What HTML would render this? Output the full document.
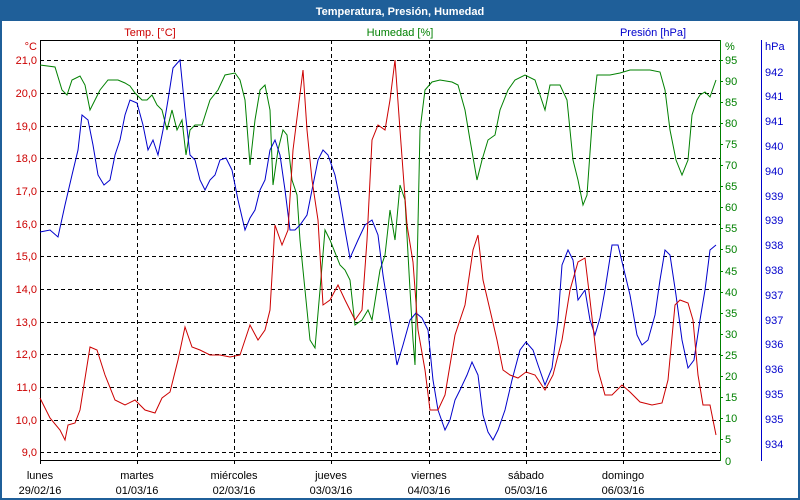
<!DOCTYPE html>
<html><head><meta charset="utf-8"><style>
body{margin:0;width:800px;height:500px;overflow:hidden;background:#fff}
svg{display:block}
text{font-family:"Liberation Sans",sans-serif;font-size:11px}
</style></head><body>
<svg width="800" height="500" xmlns="http://www.w3.org/2000/svg">
<rect x="0" y="0" width="800" height="500" fill="#1f5f99"/>
<rect x="2" y="21" width="796" height="477" fill="#fff"/>
<text x="400" y="15" fill="#fff" font-weight="bold" text-anchor="middle" font-size="12">Temperatura, Presión, Humedad</text>
<text x="150" y="36" fill="#cc0000" text-anchor="middle">Temp. [°C]</text>
<text x="400" y="36" fill="#008000" text-anchor="middle">Humedad [%]</text>
<text x="653" y="36" fill="#0000cc" text-anchor="middle">Presión [hPa]</text>
<g stroke="#000" stroke-dasharray="4,3" stroke-width="1">
<line x1="40" x2="720" y1="60.5" y2="60.5"/><line x1="40" x2="720" y1="93.5" y2="93.5"/><line x1="40" x2="720" y1="126.5" y2="126.5"/><line x1="40" x2="720" y1="158.5" y2="158.5"/><line x1="40" x2="720" y1="191.5" y2="191.5"/><line x1="40" x2="720" y1="224.5" y2="224.5"/><line x1="40" x2="720" y1="256.5" y2="256.5"/><line x1="40" x2="720" y1="289.5" y2="289.5"/><line x1="40" x2="720" y1="322.5" y2="322.5"/><line x1="40" x2="720" y1="354.5" y2="354.5"/><line x1="40" x2="720" y1="387.5" y2="387.5"/><line x1="40" x2="720" y1="420.5" y2="420.5"/><line x1="40" x2="720" y1="452.5" y2="452.5"/>
<line x1="137.5" x2="137.5" y1="40" y2="464"/><line x1="234.5" x2="234.5" y1="40" y2="464"/><line x1="331.5" x2="331.5" y1="40" y2="464"/><line x1="429.5" x2="429.5" y1="40" y2="464"/><line x1="526.5" x2="526.5" y1="40" y2="464"/><line x1="623.5" x2="623.5" y1="40" y2="464"/>
</g>
<line x1="40" x2="720" y1="40.5" y2="40.5" stroke="#000"/>
<line x1="40" x2="720" y1="460.5" y2="460.5" stroke="#000"/>
<line x1="40.5" x2="40.5" y1="40" y2="464" stroke="#000"/>
<line x1="720.5" x2="720.5" y1="40" y2="461" stroke="#008000"/>
<line x1="761.5" x2="761.5" y1="40" y2="461" stroke="#0000cc"/>
<g fill="#cc0000" text-anchor="end">
<text x="37" y="50">°C</text>
<text x="37" y="64">21,0</text><text x="37" y="97">20,0</text><text x="37" y="130">19,0</text><text x="37" y="162">18,0</text><text x="37" y="195">17,0</text><text x="37" y="228">16,0</text><text x="37" y="260">15,0</text><text x="37" y="293">14,0</text><text x="37" y="326">13,0</text><text x="37" y="358">12,0</text><text x="37" y="391">11,0</text><text x="37" y="424">10,0</text><text x="37" y="456">9,0</text>
</g>
<g fill="#008000" stroke="#008000">
<g stroke-width="1">
<line x1="720" x2="723" y1="60.5" y2="60.5"/><line x1="720" x2="723" y1="81.5" y2="81.5"/><line x1="720" x2="723" y1="102.5" y2="102.5"/><line x1="720" x2="723" y1="123.5" y2="123.5"/><line x1="720" x2="723" y1="144.5" y2="144.5"/><line x1="720" x2="723" y1="165.5" y2="165.5"/><line x1="720" x2="723" y1="186.5" y2="186.5"/><line x1="720" x2="723" y1="207.5" y2="207.5"/><line x1="720" x2="723" y1="228.5" y2="228.5"/><line x1="720" x2="723" y1="249.5" y2="249.5"/><line x1="720" x2="723" y1="271.5" y2="271.5"/><line x1="720" x2="723" y1="292.5" y2="292.5"/><line x1="720" x2="723" y1="313.5" y2="313.5"/><line x1="720" x2="723" y1="334.5" y2="334.5"/><line x1="720" x2="723" y1="355.5" y2="355.5"/><line x1="720" x2="723" y1="376.5" y2="376.5"/><line x1="720" x2="723" y1="397.5" y2="397.5"/><line x1="720" x2="723" y1="418.5" y2="418.5"/><line x1="720" x2="723" y1="439.5" y2="439.5"/>
</g>
<g stroke="none">
<text x="725" y="50">%</text>
<text x="725" y="64">95</text><text x="725" y="85">90</text><text x="725" y="106">85</text><text x="725" y="127">80</text><text x="725" y="148">75</text><text x="725" y="169">70</text><text x="725" y="190">65</text><text x="725" y="211">60</text><text x="725" y="232">55</text><text x="725" y="253">50</text><text x="725" y="275">45</text><text x="725" y="296">40</text><text x="725" y="317">35</text><text x="725" y="338">30</text><text x="725" y="359">25</text><text x="725" y="380">20</text><text x="725" y="401">15</text><text x="725" y="422">10</text><text x="725" y="443">5</text><text x="725" y="465">0</text>
</g></g>
<g fill="#0000cc">
<text x="765" y="50">hPa</text>
<text x="765" y="76">942</text><text x="765" y="100">941</text><text x="765" y="125">941</text><text x="765" y="150">940</text><text x="765" y="175">940</text><text x="765" y="200">939</text><text x="765" y="224">939</text><text x="765" y="249">938</text><text x="765" y="274">938</text><text x="765" y="299">937</text><text x="765" y="324">937</text><text x="765" y="348">936</text><text x="765" y="373">936</text><text x="765" y="398">935</text><text x="765" y="423">935</text><text x="765" y="448">934</text>
</g>
<g fill="#000" text-anchor="middle">
<text x="40" y="479">lunes</text><text x="40" y="494">29/02/16</text>
<text x="137" y="479">martes</text><text x="137" y="494">01/03/16</text>
<text x="234" y="479">miércoles</text><text x="234" y="494">02/03/16</text>
<text x="331" y="479">jueves</text><text x="331" y="494">03/03/16</text>
<text x="429" y="479">viernes</text><text x="429" y="494">04/03/16</text>
<text x="526" y="479">sábado</text><text x="526" y="494">05/03/16</text>
<text x="623" y="479">domingo</text><text x="623" y="494">06/03/16</text>
</g>
<polyline fill="none" stroke="#008000" points="40,65 55,67 62,90 67,95 72,80 80,76 85,85 90,110 95,100 100,90 108,80 118,80 125,83 130,86 135,93 142,100 147,100 152,95 157,105 162,110 167,130 172,110 177,130 182,120 186,155 190,130 195,125 202,125 210,100 218,90 225,75 235,73 240,80 245,100 250,165 255,120 260,90 265,85 270,110 273,185 278,150 283,130 287,135 292,180 297,195 300,240 305,290 310,340 315,348 320,290 325,230 330,240 340,265 345,270 350,280 355,325 362,320 368,310 372,320 380,270 385,255 390,210 395,240 400,185 405,200 410,290 413,340 415,365 420,130 425,90 432,82 440,80 452,82 458,85 465,110 470,140 477,180 482,160 488,140 495,135 500,110 508,90 515,80 525,75 535,80 545,110 550,85 560,85 567,100 573,160 578,180 583,205 587,195 593,110 597,75 610,75 620,73 630,70 650,70 660,72 665,90 670,130 676,160 682,175 688,160 692,115 697,100 700,95 705,92 710,97 716,80"/>
<polyline fill="none" stroke="#0000cc" points="40,232 50,230 58,237 65,205 72,175 78,150 82,115 88,120 93,145 98,175 104,185 110,180 115,155 120,140 125,115 130,100 137,103 143,125 148,150 153,140 158,155 163,130 168,100 173,68 180,60 185,110 190,155 195,160 200,180 205,190 210,180 215,175 220,160 226,158 232,170 238,200 245,230 250,218 255,210 260,190 265,180 270,150 275,140 280,155 285,190 290,230 295,230 300,225 307,215 312,190 318,160 323,150 328,155 335,175 340,200 345,230 350,258 358,240 365,225 372,220 378,235 383,275 390,320 397,365 403,345 410,320 416,313 422,318 428,330 433,380 438,410 445,430 450,420 455,400 460,390 467,375 472,362 478,375 483,415 488,432 493,440 498,430 505,410 512,380 520,350 526,342 533,350 538,365 545,385 552,368 558,320 562,265 568,250 573,260 578,300 585,290 590,320 595,335 600,318 605,290 612,245 618,245 624,270 630,295 637,335 642,345 648,340 655,315 660,280 665,250 670,255 676,295 682,340 688,368 694,360 700,320 705,290 710,250 716,245"/>
<polyline fill="none" stroke="#cc0000" points="40,398 50,418 60,430 65,440 68,425 75,423 80,410 90,347 97,350 105,375 115,400 125,405 135,400 145,410 155,413 162,398 170,392 178,360 185,327 192,347 200,350 210,355 220,355 230,357 240,355 250,325 258,340 265,330 270,310 275,225 282,245 288,230 293,150 298,110 303,70 307,130 312,180 318,220 323,305 330,300 338,285 345,300 355,320 362,310 367,240 372,140 378,125 385,130 390,100 395,60 400,130 407,225 413,262 418,330 425,370 430,410 438,410 445,395 455,335 465,305 473,250 478,235 483,280 490,310 497,340 503,370 510,375 518,378 526,372 535,375 545,390 553,375 562,340 570,290 578,262 585,258 590,300 598,370 605,395 612,395 622,385 630,392 640,402 652,405 662,403 668,380 675,305 680,300 688,303 693,320 698,375 703,405 710,405 716,435"/>
</svg>
</body></html>
